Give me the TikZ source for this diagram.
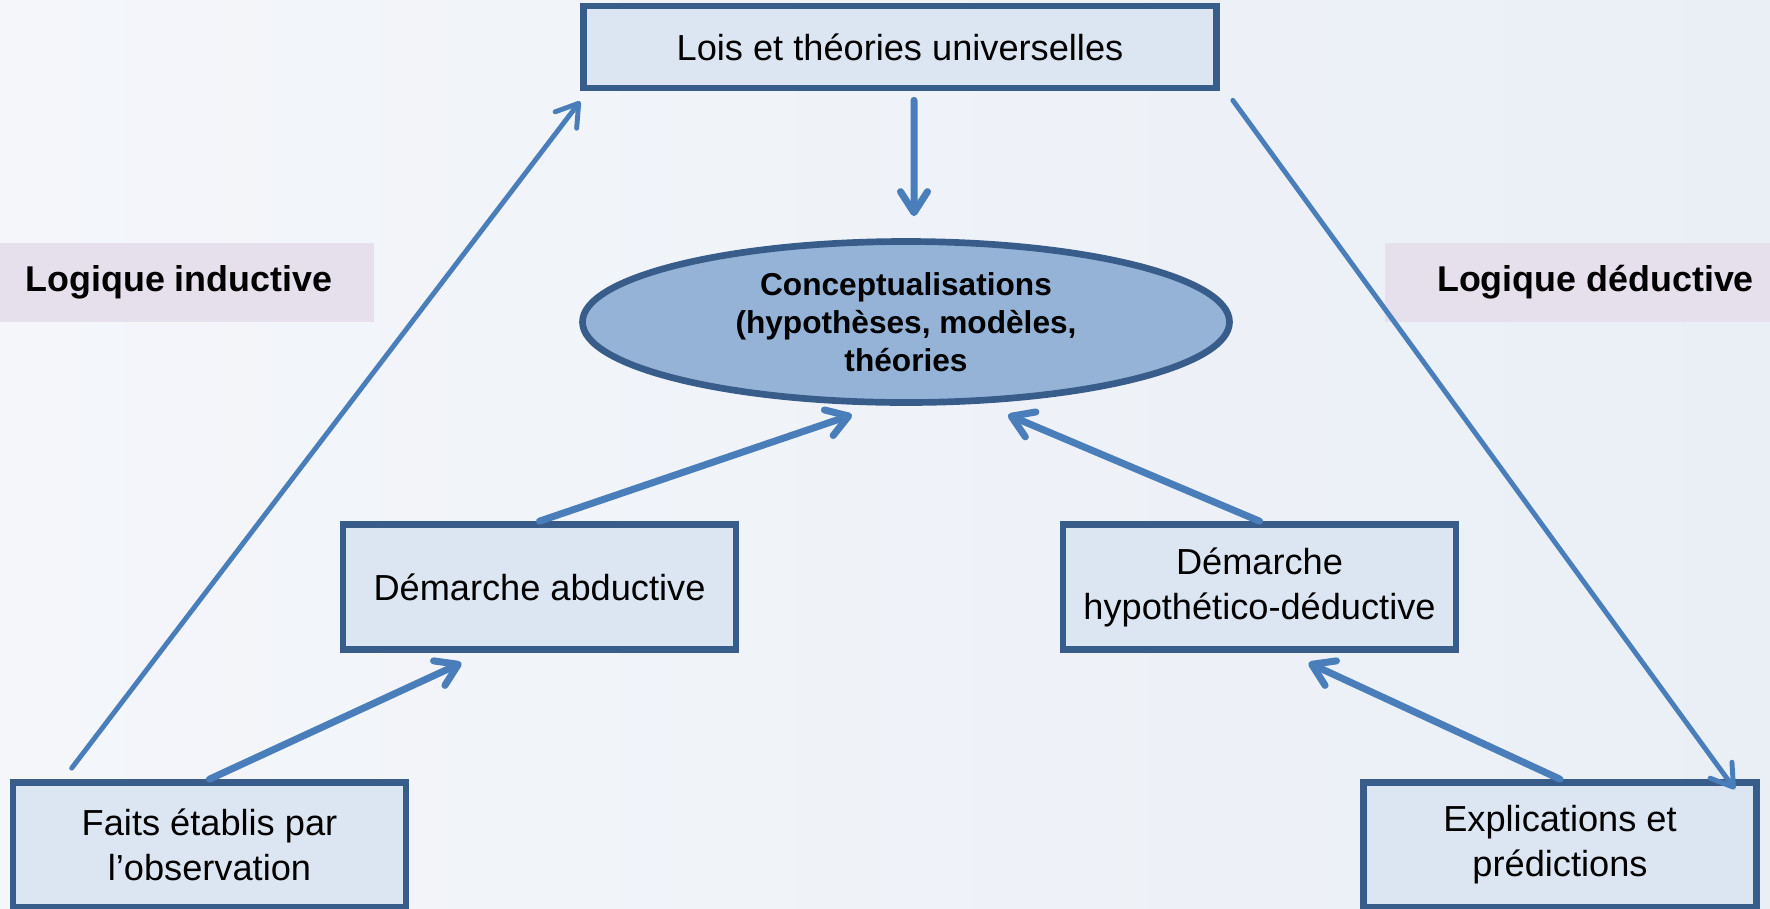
\documentclass[tikz,border=0pt]{standalone}
\usepackage{fontspec}
\setmainfont{Liberation Sans}
\usepackage{tikz}
\usetikzlibrary{arrows.meta,shapes.geometric}
\definecolor{boxfill}{RGB}{220,230,242}
\definecolor{boxline}{RGB}{56,93,138}
\definecolor{ovalfill}{RGB}{149,179,215}
\definecolor{arrowblue}{RGB}{74,126,187}
\definecolor{tagfill}{RGB}{230,224,236}
\definecolor{bgleft}{RGB}{244,246,250}
\definecolor{bgright}{RGB}{234,239,246}
\tikzset{
  block/.style={draw=boxline, line width=1.9pt, fill=boxfill, align=center,
    minimum width=3.93cm, minimum height=1.25cm, font=\fontsize{10.3pt}{12.8pt}\selectfont},
  hub/.style={draw=boxline, line width=1.9pt, ellipse, fill=ovalfill, align=center, inner sep=0pt,
    minimum width=6.47cm, minimum height=1.61cm, font=\bfseries\fontsize{9pt}{10.8pt}\selectfont},
  logic/.style={fill=tagfill, minimum height=0.79cm, font=\bfseries\fontsize{10.2pt}{12pt}\selectfont},
  flow/.style={draw=arrowblue, line width=2pt, line cap=round,
    -{Straight Barb[length=2.1mm,width=2.7mm,round]}},
  longflow/.style={flow, line width=1.4pt}
}
\begin{document}
\begin{tikzpicture}
  \useasboundingbox (0,0) rectangle (17.7,9.08);
  \clip (0,0) rectangle (17.7,9.08);
  \shade[left color=bgleft, right color=bgright] (0,0) rectangle (17.7,9.08);
  % noeuds
  \node[block, minimum width=6.33cm, minimum height=0.82cm] (lois) at (9.00,8.61) {Lois et théories universelles};
  \node[hub] (concept) at (9.06,5.86) {Conceptualisations\\(hypothèses, modèles,\\théories};
  \node[logic, minimum width=3.9cm] (induct) at (1.79,6.255) {Logique inductive};
  \node[logic, minimum width=4.21cm] (deduct) at (15.955,6.255) {Logique déductive};
  \node[block] (faits) at (2.095,0.63) {Faits établis par\\l’observation};
  \node[block] (abduct) at (5.395,3.21) {Démarche abductive};
  \node[block] (hypo) at (12.595,3.21) {Démarche\\hypothético-déductive};
  \node[block] (expl) at (15.60,0.63) {Explications et\\prédictions};
  % fleches
  \draw[longflow] ([xshift=6.2mm,yshift=1.1mm]faits.north west) -- ([yshift=-1mm]lois.south west);
  \draw[flow] ([xshift=1.4mm,yshift=-0.9mm]lois.south) -- ([xshift=0.8mm,yshift=2.2mm]concept.north);
  \draw[longflow] ([xshift=1.3mm,yshift=-0.9mm]lois.south east) -- ([xshift=-2.5mm,yshift=-1mm]expl.north east);
  \draw[flow] (abduct.north) -- ([xshift=-5.4mm,yshift=-0.9mm]concept.south);
  \draw[flow] (hypo.north) -- ([xshift=10.2mm,yshift=-0.9mm]concept.south);
  \draw[flow] (faits.north) -- ([xshift=-7.8mm,yshift=-1mm]abduct.south);
  \draw[flow] (expl.north) -- ([xshift=4.9mm,yshift=-1mm]hypo.south);
\end{tikzpicture}
\end{document}
